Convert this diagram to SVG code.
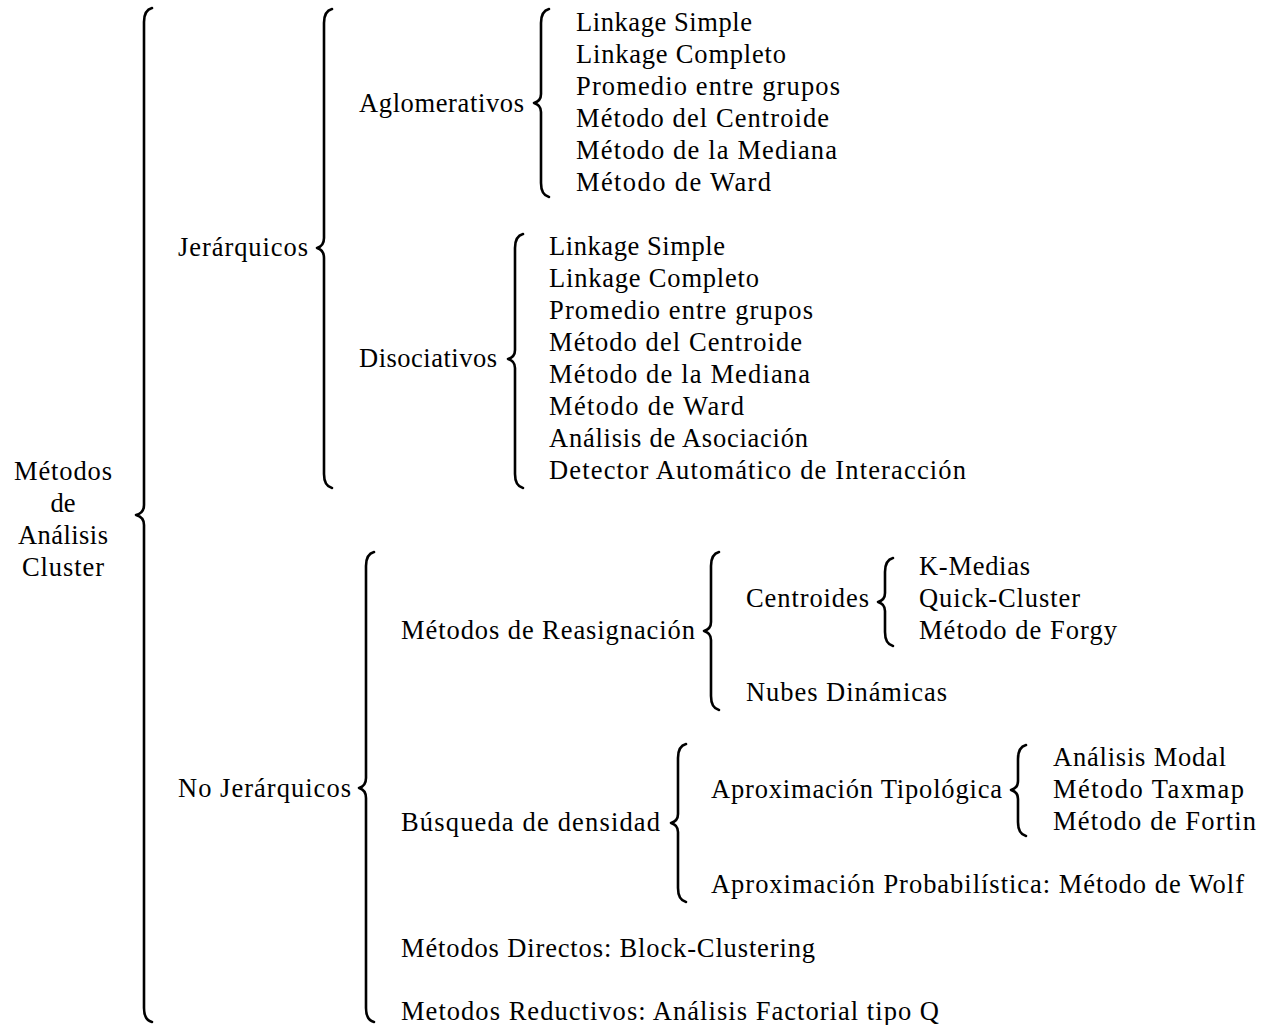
<svg xmlns="http://www.w3.org/2000/svg" width="1274" height="1025" viewBox="0 0 1274 1025" font-family="Liberation Serif" font-size="26.5">
<style>
text{font-family:"Liberation Serif",serif;font-size:26.5px;fill:#000}
.c{text-anchor:middle}
.b{fill:none;stroke:#000;stroke-width:2.6;stroke-linecap:round;stroke-linejoin:round}
</style>
<rect width="1274" height="1025" fill="#fff"/>
<g id="connectors">
<path class="b" d="M152,8 Q144,10 144,22 L144,505 Q144,513 136,515 Q144,517 144,525 L144,1008 Q144,1020 152,1022"/>
<path class="b" d="M332,9 Q324,11 324,23 L324,238 Q324,246 317,248 Q324,250 324,258 L324,474 Q324,486 332,488"/>
<path class="b" d="M549,9 Q541,11 541,23 L541,94 Q541,101 534,103 Q541,105 541,112 L541,183 Q541,195 549,197"/>
<path class="b" d="M523,234 Q515,236 515,248 L515,350 Q515,357 508,359 Q515,361 515,368 L515,474 Q515,486 523,488"/>
<path class="b" d="M374,552 Q366,554 366,566 L366,778 Q366,786 359,788 Q366,790 366,798 L366,1008 Q366,1020 374,1022"/>
<path class="b" d="M719,552 Q711,554 711,566 L711,622 Q711,629 704,631 Q711,633 711,640 L711,696 Q711,708 719,710"/>
<path class="b" d="M893,558 Q885,560 885,572 L885,593 Q885,600 878,602 Q885,604 885,611 L885,632 Q885,644 893,646"/>
<path class="b" d="M686,744 Q678,746 678,758 L678,814 Q678,821 671,823 Q678,825 678,832 L678,888 Q678,900 686,902"/>
<path class="b" d="M1026,745 Q1018,747 1018,759 L1018,781 Q1018,788 1011,790 Q1018,792 1018,799 L1018,822 Q1018,834 1026,836"/>
</g>
<g id="root">
<text class="c" x="63" y="480" textLength="98" lengthAdjust="spacing">Métodos</text>
<text class="c" x="63" y="512">de</text>
<text class="c" x="63" y="544" textLength="90" lengthAdjust="spacing">Análisis</text>
<text class="c" x="63" y="576" textLength="82" lengthAdjust="spacing">Cluster</text>
</g>
<g id="jerarquicos"><text x="178" y="256" textLength="130" lengthAdjust="spacing">Jerárquicos</text></g>
<g id="aglomerativos">
<text x="359" y="112" textLength="165" lengthAdjust="spacing">Aglomerativos</text>
</g>
<g id="aglomerativos-items">
<text x="576" y="31" textLength="176" lengthAdjust="spacing">Linkage Simple</text>
<text x="576" y="63" textLength="210" lengthAdjust="spacing">Linkage Completo</text>
<text x="576" y="95" textLength="264" lengthAdjust="spacing">Promedio entre grupos</text>
<text x="576" y="127" textLength="253" lengthAdjust="spacing">Método del Centroide</text>
<text x="576" y="159" textLength="261" lengthAdjust="spacing">Método de la Mediana</text>
<text x="576" y="191" textLength="195" lengthAdjust="spacing">Método de Ward</text>
</g>
<g id="disociativos">
<text x="359" y="367" textLength="138" lengthAdjust="spacing">Disociativos</text>
</g>
<g id="disociativos-items">
<text x="549" y="255" textLength="176" lengthAdjust="spacing">Linkage Simple</text>
<text x="549" y="287" textLength="210" lengthAdjust="spacing">Linkage Completo</text>
<text x="549" y="319" textLength="264" lengthAdjust="spacing">Promedio entre grupos</text>
<text x="549" y="351" textLength="253" lengthAdjust="spacing">Método del Centroide</text>
<text x="549" y="383" textLength="261" lengthAdjust="spacing">Método de la Mediana</text>
<text x="549" y="415" textLength="195" lengthAdjust="spacing">Método de Ward</text>
<text x="549" y="447" textLength="259" lengthAdjust="spacing">Análisis de Asociación</text>
<text x="549" y="479" textLength="417" lengthAdjust="spacing">Detector Automático de Interacción</text>
</g>
<g id="no-jerarquicos"><text x="178" y="797" textLength="173" lengthAdjust="spacing">No Jerárquicos</text></g>
<g id="reasignacion"><text x="401" y="639" textLength="294" lengthAdjust="spacing">Métodos de Reasignación</text></g>
<g id="centroides"><text x="746" y="607" textLength="123" lengthAdjust="spacing">Centroides</text></g>
<g id="centroides-items">
<text x="919" y="575" textLength="111" lengthAdjust="spacing">K-Medias</text>
<text x="919" y="607" textLength="161" lengthAdjust="spacing">Quick-Cluster</text>
<text x="919" y="639" textLength="198" lengthAdjust="spacing">Método de Forgy</text>
</g>
<g id="nubes"><text x="746" y="701" textLength="201" lengthAdjust="spacing">Nubes Dinámicas</text></g>
<g id="densidad"><text x="401" y="831" textLength="259" lengthAdjust="spacing">Búsqueda de densidad</text></g>
<g id="tipologica"><text x="711" y="798" textLength="291" lengthAdjust="spacing">Aproximación Tipológica</text></g>
<g id="tipologica-items">
<text x="1053" y="766" textLength="173" lengthAdjust="spacing">Análisis Modal</text>
<text x="1053" y="798" textLength="191" lengthAdjust="spacing">Método Taxmap</text>
<text x="1053" y="830" textLength="203" lengthAdjust="spacing">Método de Fortin</text>
</g>
<g id="probabilistica"><text x="711" y="893" textLength="533" lengthAdjust="spacing">Aproximación Probabilística: Método de Wolf</text></g>
<g id="directos"><text x="401" y="957" textLength="414" lengthAdjust="spacing">Métodos Directos: Block-Clustering</text></g>
<g id="reductivos"><text x="401" y="1020" textLength="538" lengthAdjust="spacing">Metodos Reductivos: Análisis Factorial tipo Q</text></g>
</svg>
